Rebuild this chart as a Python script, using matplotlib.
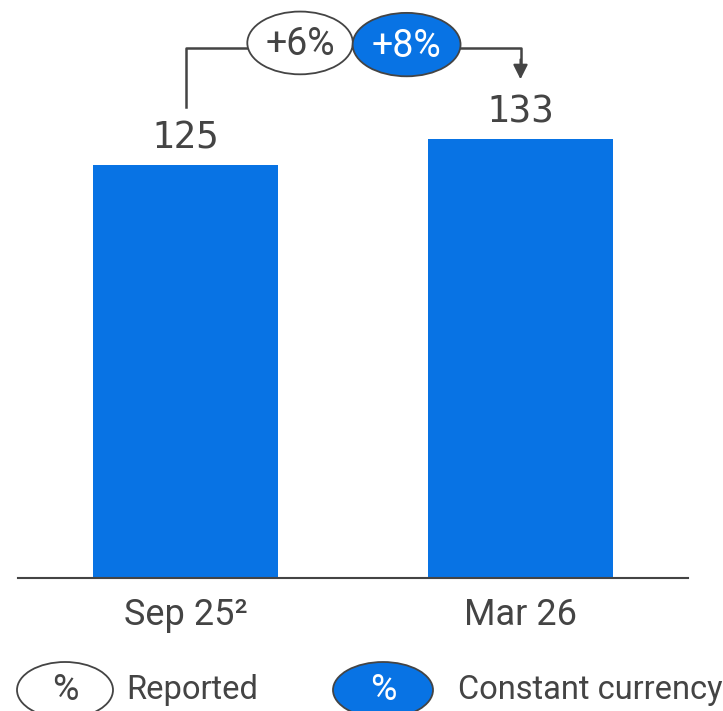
import numpy as np
import matplotlib.pyplot as plt
from matplotlib.patches import Ellipse

periods = ['Sep 25²', 'Mar 26']
values = [125, 133]
reported = '+6%'
constant = '+8%'
legend_labels = ['Reported', 'Constant currency']

blue = '#0873e4'
grey = '#444444'
plt.rcParams['font.family'] = ['Roboto', 'DejaVu Sans']

fig = plt.figure(figsize=(7.23, 7.11), dpi=100)
ax = fig.add_axes([18/723, 133/711, 670/723, 578/711])
x = np.arange(len(values))
ax.bar(x, values, width=0.552, color=blue)
ax.set_xlim(-0.5, 1.5)
ax.set_ylim(0, 175)
for s in ['top', 'right', 'left']:
    ax.spines[s].set_visible(False)
ax.spines['bottom'].set_color(grey)
ax.spines['bottom'].set_linewidth(1.5)
ax.set_yticks([])
ax.set_xticks(x)
ax.set_xticklabels(periods, fontsize=26, color=grey)
ax.tick_params(axis='x', length=0, pad=14)

for xi, v in zip(x, values):
    ax.text(xi, v + 2.6, str(v), ha='center', va='bottom', fontsize=27,
            color=grey, family='DejaVu Sans Mono')

# bracket with growth bubbles
yb = 160.4
ax.plot([x[0], x[0], 0.5], [values[0] + 17.6, yb, yb], color=grey, lw=1.8,
        clip_on=False, zorder=2)
ax.plot([0.5, x[1], x[1]], [yb, yb, values[1] + 23], color=grey, lw=1.8,
        clip_on=False, zorder=2)
ax.annotate('', xy=(x[1], values[1] + 18), xytext=(x[1], values[1] + 24),
            arrowprops=dict(arrowstyle='-|>', color=grey, lw=1.5,
                            mutation_scale=22, shrinkA=0, shrinkB=0))
ax.add_patch(Ellipse((0.342, 162), 0.315, 19.0, facecolor='white',
                     edgecolor=grey, lw=1.3, clip_on=False, zorder=3))
ax.add_patch(Ellipse((0.66, 161.5), 0.322, 19.2, facecolor=blue,
                     edgecolor=grey, lw=1.3, clip_on=False, zorder=4))
ax.text(0.342, 161.5, reported, ha='center', va='center', fontsize=27,
        color=grey, zorder=5)
ax.text(0.66, 161, constant, ha='center', va='center', fontsize=27,
        color='white', zorder=5)

# legend
ly = 21/711
fig.add_artist(Ellipse((65/723, ly), 96/723, 56/711, facecolor='white',
                       edgecolor=grey, lw=1.3, transform=fig.transFigure))
fig.add_artist(Ellipse((383/723, ly), 100/723, 56/711, facecolor=blue,
                       edgecolor=grey, lw=1.3, transform=fig.transFigure))
fig.text(65/723, ly, '%', ha='center', va='center', fontsize=26, color=grey)
fig.text(383/723, ly, '%', ha='center', va='center', fontsize=26, color='white')
fig.text(126/723, ly, legend_labels[0], ha='left', va='center', fontsize=23.5, color=grey)
fig.text(458/723, ly, legend_labels[1], ha='left', va='center', fontsize=23.5, color=grey)

fig.savefig('out.png', dpi=100)
